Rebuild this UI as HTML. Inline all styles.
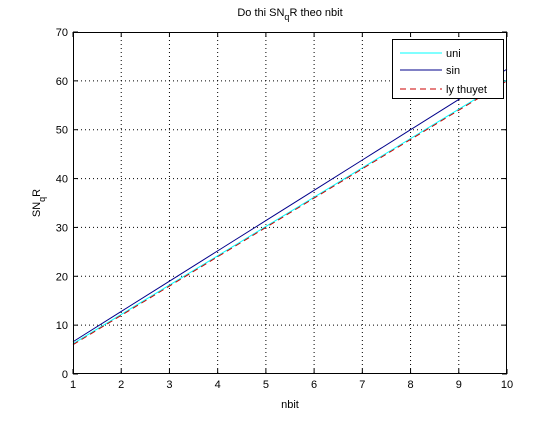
<!DOCTYPE html>
<html><head><meta charset="utf-8"><style>
body{margin:0;background:#fff}
text{font-family:"Liberation Sans",sans-serif;font-size:11px;fill:#000}
</style></head><body>
<svg id="chart" width="560" height="420" xmlns="http://www.w3.org/2000/svg">
<rect width="560" height="420" fill="#fff"/>
<g id="g"></g>
<text x="290" y="16" text-anchor="middle">Do thi SN<tspan dy="4" font-size="9">q</tspan><tspan dy="-4">R theo nbit</tspan></text>
<text x="290" y="408" text-anchor="middle">nbit</text>
<text transform="translate(40,203) rotate(-90)" text-anchor="middle">SN<tspan dy="5" font-size="9">q</tspan><tspan dy="-5">R</tspan></text>
</svg>
<script>
const nbit=[1,2,3,4,5,6,7,8,9,10];
const uniVals=[6.2,12.2,18.2,24.2,30.2,36.2,42.2,48.2,54.2,60.2];
const sinVals=[6.6,12.8,19.0,25.2,31.4,37.6,43.8,50.0,56.2,62.4];
const lyVals=[6.0,12.0,18.0,24.0,30.0,36.0,42.0,48.0,54.0,60.0];
const xTicks=[1,2,3,4,5,6,7,8,9,10];
const yTicks=[0,10,20,30,40,50,60,70];
const L=73,R=507,T=32,B=374;
const xs=v=>L+(v-1)/9*(R-L);
const ys=v=>B-v/70*(B-T);
const NS="http://www.w3.org/2000/svg";
const g=document.getElementById('g');
function mk(t,a,p){const e=document.createElementNS(NS,t);for(const k in a)e.setAttribute(k,a[k]);(p||g).appendChild(e);return e;}
const ax=mk('rect',{x:L,y:T,width:R-L,height:B-T,fill:'#fff',stroke:'none'});


xTicks.forEach(v=>{const x=xs(v);
 if(v>1&&v<10){const l=mk('line',{x1:x,y1:T,x2:x,y2:B,stroke:'#000','stroke-dasharray':'1,3','stroke-width':1});
 }
 mk('line',{x1:x,y1:B,x2:x,y2:B-5,stroke:'#000'});mk('line',{x1:x,y1:T,x2:x,y2:T+5,stroke:'#000'});
 const t=mk('text',{x:x,y:B+14,'text-anchor':'middle'});t.textContent=v;
 });
yTicks.forEach(v=>{const y=ys(v);
 if(v>0&&v<70){const l=mk('line',{x1:L,y1:y,x2:R,y2:y,stroke:'#000','stroke-dasharray':'1,3','stroke-width':1});
 }
 mk('line',{x1:L,y1:y,x2:L+5,y2:y,stroke:'#000'});mk('line',{x1:R,y1:y,x2:R-5,y2:y,stroke:'#000'});
 const t=mk('text',{x:L-5,y:y+4,'text-anchor':'end'});t.textContent=v;
 });
function series(vals,color,dash,name){const p=mk('polyline',{points:nbit.map((n,i)=>xs(n)+','+ys(vals[i])).join(' '),fill:'none',stroke:color,'stroke-width':1,'stroke-dasharray':dash||'none'});
 }
series(uniVals,'#00ffff',null,'series-uni');
series(sinVals,'#00008b',null,'series-sin');
series(lyVals,'#cc0000','6,4','series-ly-thuyet');
const fr=mk('rect',{x:L+.5,y:T+.5,width:R-L-1,height:B-T-1,fill:'none',stroke:'#000'});

const lg=mk('g',{});

mk('rect',{x:392.5,y:39.5,width:111,height:59,fill:'#fff',stroke:'#000'},lg);
[['uni','#00ffff',null,53],['sin','#00008b',null,70],['ly thuyet','#cc0000','6,4',89]].forEach(([n,c,d,y])=>{
 const e=mk('g',{},lg);
 mk('line',{x1:400,y1:y,x2:442,y2:y,stroke:c,'stroke-dasharray':d||'none'},e);
 const t=mk('text',{x:446,y:y+4,'font-size':'12'},e);t.textContent=n;});
</script>
</body></html>
